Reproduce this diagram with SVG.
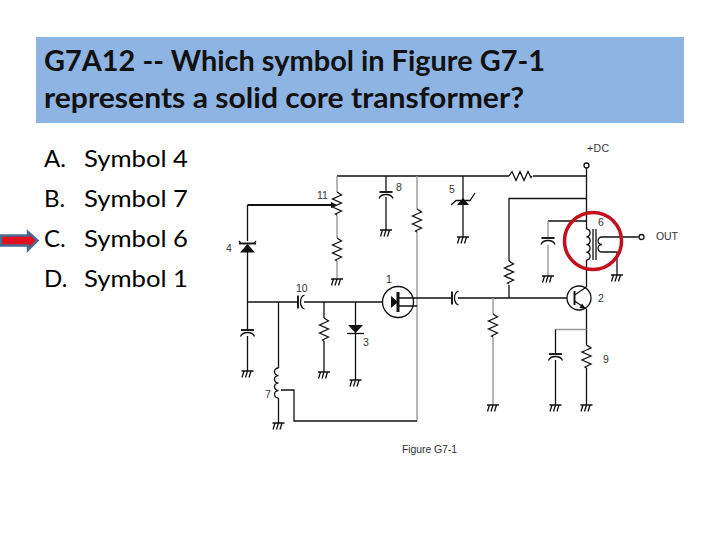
<svg xmlns="http://www.w3.org/2000/svg" xmlns:xlink="http://www.w3.org/1999/xlink" width="720" height="540" viewBox="0 0 720 540">
<style>
.title{font:bold 28px Lato,"Liberation Sans",sans-serif;fill:#111}
.opt{font:24px Lato,"Liberation Sans",sans-serif;fill:#000}
.lbl{font:10.500px "Liberation Sans",Arial,sans-serif;fill:#333}
.w{fill:none;stroke:#111;stroke-width:1.300}
.t{fill:none;stroke:#111;stroke-width:1.900}
.b{fill:none;stroke:#111;stroke-width:3}
.g{fill:none;stroke:#999;stroke-width:1.400}
.k{fill:#111;stroke:none}
</style>
<defs>
<g id="gnd"><path class="w" d="M-6 0H6M-3.500 0L-5.500 6.500M0 0L-2 6.500M3.500 0L1.500 6.500"/></g>
<path id="res" class="w" d="M0 0L4.500 3L-4.500 7L4.500 11L-4.500 15L4.500 19L-1.500 22L0 23"/>
<g id="capv"><path class="t" d="M-6.500 0H6.500"/><path class="w" d="M-7 6.500Q-5.500 2.500 0 2.500Q5.500 2.500 7 6.500"/></g>
<g id="caph"><path class="t" d="M0 -6.500V6.500"/><path class="w" d="M6.500 -7Q2.500 -5.500 2.500 0Q2.500 5.500 6.500 7"/></g>
</defs>
<rect width="720" height="540" fill="#fff"/>
<rect x="36" y="37" width="648" height="86" fill="#8eb4e3"/>
<text class="title" x="44" y="71" textLength="501" lengthAdjust="spacingAndGlyphs">G7A12 -- Which symbol in Figure G7-1</text>
<text class="title" x="44" y="108" textLength="480" lengthAdjust="spacingAndGlyphs">represents a solid core transformer?</text>
<g id="options">
<text class="opt" x="44" y="167">A.</text><text class="opt" x="84" y="167" textLength="104" lengthAdjust="spacingAndGlyphs">Symbol 4</text>
<text class="opt" x="44" y="207">B.</text><text class="opt" x="84" y="207" textLength="104" lengthAdjust="spacingAndGlyphs">Symbol 7</text>
<text class="opt" x="44" y="247">C.</text><text class="opt" x="84" y="247" textLength="104" lengthAdjust="spacingAndGlyphs">Symbol 6</text>
<text class="opt" x="44" y="287">D.</text><text class="opt" x="84" y="287" textLength="104" lengthAdjust="spacingAndGlyphs">Symbol 1</text>
</g>
<polygon id="answer-arrow" points="1,235.500 28,235.500 28,232 37.500,240.500 28,250 28,245.500 1,245.500" fill="#e3101f" stroke="#4a6a92" stroke-width="2.500"/>
<g id="connectors">
<path class="w" d="M337 176H509M533 176H586.500M586.500 168V229M586.500 260V287M586.500 309V345M586.500 368V405"/>
<path class="g" d="M337 176V192M337 215V238M337 261V279M417 176V209M417 232V421"/>
<path class="t" d="M247.500 205H333"/>
<path class="w" d="M247.500 205V241M247.500 252V330M247.500 336V371"/>
<path class="w" d="M247.500 302H298M304 302H383M278.500 302V368M278.500 398V423M281 390H294V421H417"/>
<path class="w" d="M324 302V318M324 341V372M355.500 302V380M386 176V192M386 197V230M463 176V237"/>
<path class="w" d="M398 298H452M458 298H567M398 306H417M509 298V285M509 261V198.500H586.500"/>
<path class="w" d="M586.500 221H548"/><path class="g" d="M548 221V238M548 245V276"/>
<path class="g" d="M493 298V314M493 337V405M586.500 329.500H555.500"/>
<path class="w" d="M555.500 329.500V354M555.500 360V405"/>
<path class="w" d="M602 237H638.500M602 252H617V275"/>
</g>
<g id="symbol-1"><circle class="w" cx="398" cy="302" r="15.500"/><path class="k" d="M391 296L398 302L391 308Z"/><path class="b" d="M398 292V312"/></g>
<g id="symbol-2"><circle class="w" cx="579" cy="298" r="12"/><path class="t" d="M574.500 291V305"/><path class="w" d="M574.500 295L586.500 287M574.500 301L586.500 309"/><path class="k" d="M586 309L579.500 308L582 303.500Z"/></g>
<g id="symbol-3"><path class="k" d="M348 325H363L355.500 333Z"/><path class="w" d="M347 333.500H364"/><use xlink:href="#gnd" x="355.500" y="380"/></g>
<g id="symbol-4"><path class="k" d="M240 252.500L247.500 244L255 252.500Z"/><path class="t" d="M239 243.500H256"/><path class="w" d="M239 241L241 243.500M256 241L254 243.500"/><use xlink:href="#capv" x="247.500" y="330"/><use xlink:href="#gnd" x="247.500" y="371"/></g>
<g id="symbol-5"><path class="k" d="M457 205L469 205L463 198Z"/><path class="w" d="M451 205L456 200.500H470L475 193"/><use xlink:href="#gnd" x="463" y="237"/></g>
<g id="symbol-6"><path class="w" d="M586.500 229a4 3.900 0 0 1 0 7.750a4 3.900 0 0 1 0 7.750a4 3.900 0 0 1 0 7.750a4 3.900 0 0 1 0 7.750"/><path class="w" d="M593 229V260M596 229V260"/><path class="w" d="M602 237a4 3.750 0 0 0 0 7.500a4 3.750 0 0 0 0 7.500"/><circle class="w" cx="641.500" cy="237" r="2.500" style="fill:#fff"/><use xlink:href="#capv" x="548" y="238"/><use xlink:href="#gnd" x="548" y="276"/><use xlink:href="#gnd" x="617" y="275"/></g>
<g id="symbol-7"><path class="w" d="M278.500 368a4 3.750 0 0 0 0 7.500a4 3.750 0 0 0 0 7.500a4 3.750 0 0 0 0 7.500a4 3.750 0 0 0 0 7.500"/><use xlink:href="#gnd" x="278.500" y="423"/></g>
<g id="symbol-8"><use xlink:href="#capv" x="386" y="192"/><use xlink:href="#gnd" x="386" y="230"/></g>
<g id="symbol-9"><use xlink:href="#res" x="586.500" y="345"/><use xlink:href="#gnd" x="586.500" y="405"/><use xlink:href="#capv" x="555.500" y="354"/><use xlink:href="#gnd" x="555.500" y="405"/></g>
<g id="symbol-10"><use xlink:href="#caph" x="298" y="302"/></g>
<g id="symbol-11"><use xlink:href="#res" x="337" y="192"/><path class="k" d="M337 205L331 202V208Z"/></g>
<g id="resistors">
<use xlink:href="#res" x="337" y="238"/><use xlink:href="#gnd" x="337" y="279"/>
<use xlink:href="#res" x="417" y="209"/>
<use xlink:href="#res" x="324" y="318"/><use xlink:href="#gnd" x="324" y="372"/>
<use xlink:href="#res" x="493" y="314"/><use xlink:href="#gnd" x="493" y="405"/>
<use xlink:href="#res" x="509" y="261"/>
<use xlink:href="#res" transform="translate(509 176) rotate(-90)" x="0" y="0"/>
<use xlink:href="#caph" x="452" y="298"/>
<circle class="w" cx="586.500" cy="165.500" r="2.500" style="fill:#fff"/>
</g>
<ellipse id="highlight" cx="593" cy="241" rx="28.500" ry="28.500" fill="none" stroke="#c40f1c" stroke-width="3.500"/>
<g id="labels">
<text class="lbl" x="317" y="199">11</text><text class="lbl" x="396" y="191">8</text><text class="lbl" x="449" y="193">5</text><text class="lbl" x="226" y="252">4</text>
<text class="lbl" x="386" y="283">1</text><text class="lbl" x="296" y="292">10</text><text class="lbl" x="363" y="346">3</text><text class="lbl" x="265" y="398">7</text>
<text class="lbl" x="598" y="226">6</text><text class="lbl" x="598" y="302">2</text><text class="lbl" x="603" y="363">9</text>
<text class="lbl" x="587" y="152" textLength="22">+DC</text><text class="lbl" x="656" y="240" textLength="22">OUT</text>
<text class="lbl" x="402" y="453" textLength="55">Figure G7-1</text>
</g>
</svg>
